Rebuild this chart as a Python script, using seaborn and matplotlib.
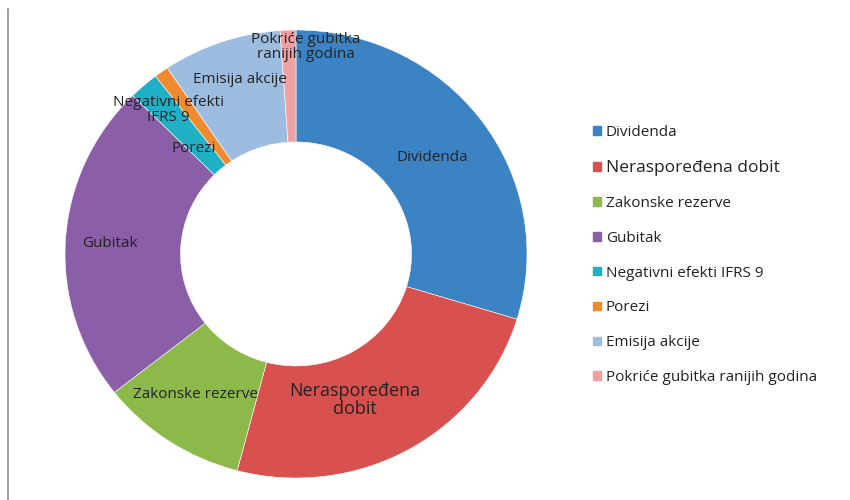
import matplotlib
matplotlib.use("Agg")
import matplotlib.pyplot as plt
import seaborn as sns
from matplotlib.lines import Line2D

# data (shares in %, read from the ring)
categories = ["Dividenda", "Neraspoređena dobit", "Zakonske rezerve", "Gubitak",
              "Negativni efekti IFRS 9", "Porezi", "Emisija akcije",
              "Pokriće gubitka ranijih godina"]
slice_labels = ["Dividenda", "Neraspoređena\ndobit", "Zakonske rezerve", "Gubitak",
                "Negativni efekti\nIFRS 9", "Porezi", "Emisija akcije",
                "Pokriće gubitka\nranijih godina"]
shares = [29.7, 24.4, 10.3, 23.1, 2.1, 1.0, 8.3, 1.1]

colors = ["#3C83C4", "#D9514E", "#8DB84A", "#8A5FA8", "#1FB0C6", "#F08A2E", "#9CBCE0", "#EFA0A0"]

sns.set_style("white")
plt.rcParams["font.family"] = ["Open Sans", "DejaVu Sans"]

fig = plt.figure(figsize=(8.5, 5), dpi=100)
ax = fig.add_axes([0.0765, 0.044, 0.5435, 0.896])
wedges, _ = ax.pie(shares, colors=colors, startangle=90, counterclock=False,
                   radius=1.0, wedgeprops=dict(width=0.5, edgecolor="white", linewidth=0.4))
ax.set_aspect("auto")
ax.set_xlim(-1, 1)
ax.set_ylim(-1, 1)

# label positions inside the ring
label_pos = [(0.589, 0.433), (0.255, -0.652), (-0.437, -0.629), (-0.805, 0.049),
             (-0.554, 0.643), (-0.442, 0.473), (-0.242, 0.777), (0.043, 0.924)]
for i, (lab, (x, y)) in enumerate(zip(slice_labels, label_pos)):
    size = 13 if i == 1 else 11
    ax.text(x, y, lab, ha="center", va="center", fontsize=size, color="#222222",
            linespacing=0.95)

handles = [plt.Rectangle((0, 0), 1, 1, color=c) for c in colors]
leg = fig.legend(handles, categories, loc="upper left", bbox_to_anchor=(0.691, 0.762),
                 frameon=False, fontsize=11, handlelength=0.5, handleheight=0.5,
                 handletextpad=0.3, labelspacing=1.30, borderaxespad=0)
leg.get_texts()[1].set_fontsize(12.5)
for t in leg.get_texts():
    t.set_color("#222222")

fig.add_artist(Line2D([0.0095, 0.0095], [0, 0.982], color="#a0a0a0", linewidth=1.5))

plt.savefig("out.png")
